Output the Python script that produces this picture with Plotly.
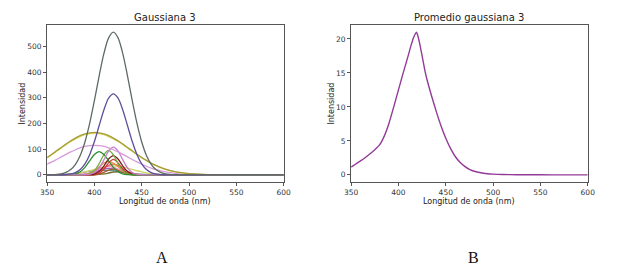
import plotly.graph_objects as go

# ---------------- data ----------------
WL = [350, 355, 360, 365, 370, 375, 380, 385, 390, 395, 400, 405, 410, 415, 420,
      425, 430, 435, 440, 445, 450, 455, 460, 465, 470, 475, 480, 485, 490, 495,
      500, 520, 550, 600]

c_gris = [0.2, 0.6, 1.6, 4.0, 9.4, 20.4, 40.7, 75.1, 127.7, 200.0, 288.9, 384.4, 471.4, 532.8, 555.0,
          532.8, 471.4, 384.4, 288.9, 200.0, 127.7, 75.1, 40.7, 20.4, 9.4, 4.0, 1.6, 0.6, 0.2, 0.1,
          0, 0, 0, 0]
c_violeta = [0, 0, 0.1, 0.4, 1.2, 3.5, 9.0, 20.7, 42.6, 78.6, 129.5, 191.0, 252.3, 298.0, 315.0,
             298.0, 252.3, 191.0, 129.5, 78.6, 42.6, 20.7, 9.0, 3.5, 1.2, 0.4, 0.1, 0, 0, 0,
             0, 0, 0, 0]
c_oliva = [67.8, 80.3, 93.4, 106.7, 119.8, 132.1, 143.1, 152.3, 159.2, 163.5, 165.0, 163.5, 159.2, 152.3, 143.1,
           132.1, 119.8, 106.7, 93.4, 80.3, 67.8, 56.3, 45.9, 36.7, 28.9, 22.3, 16.9, 12.6, 9.3, 6.7,
           4.7, 1.0, 0.1, 0]
c_amarillo = [66.0, 78.5, 91.5, 104.5, 117.5, 129.5, 140.0, 149.0, 156.0, 160.0, 161.5, 160.0, 156.0, 149.0, 140.0,
              129.5, 117.5, 104.5, 91.5, 78.5, 66.0, 55.0, 45.0, 36.0, 28.3, 21.8, 16.5, 12.3, 9.1, 6.6,
              4.6, 1.0, 0.1, 0]
c_orquidea = [41.4, 50.3, 59.9, 69.7, 79.6, 89.1, 97.7, 104.9, 110.4, 113.9, 115.0, 113.9, 110.4, 104.9, 97.7,
              89.1, 79.6, 69.7, 59.9, 50.3, 41.4, 33.5, 26.5, 20.5, 15.6, 11.6, 8.4, 6.0, 4.2, 2.9,
              1.9, 0.3, 0, 0]
c_verde = [0, 0, 0, 0, 0.2, 1.0, 4.0, 12.2, 29.2, 54.6, 79.4, 90.0, 79.4, 54.6, 29.2,
           12.2, 4.0, 1.0, 0.2, 0, 0, 0, 0, 0, 0, 0, 0, 0, 0, 0,
           0, 0, 0, 0]
c_verde2 = [0, 0, 0, 0, 0, 0, 0, 0.1, 0.7, 4.2, 16.4, 43.5, 78.1, 95.0, 78.1,
            43.5, 16.4, 4.2, 0.7, 0.1, 0, 0, 0, 0, 0, 0, 0, 0, 0, 0,
            0, 0, 0, 0]
c_rosa = [0, 0, 0, 0, 0, 0, 0, 0.05, 0.4, 2.3, 9.1, 26.9, 58.2, 92.6, 108.0,
          92.6, 58.2, 26.9, 9.1, 2.3, 0.4, 0.05, 0, 0, 0, 0, 0, 0, 0, 0,
          0, 0, 0, 0]
c_granate = [0, 0, 0, 0, 0, 0, 0, 0, 0.07, 0.6, 3.3, 12.9, 34.3, 61.7, 75.0,
             61.7, 34.3, 12.9, 3.3, 0.6, 0.07, 0, 0, 0, 0, 0, 0, 0, 0, 0,
             0, 0, 0, 0]
c_naranja = [0, 0, 0, 0, 0, 0, 0.1, 0.6, 2.3, 7.0, 16.9, 31.5, 45.9, 52.0, 45.9,
             31.5, 16.9, 7.0, 2.3, 0.6, 0.1, 0, 0, 0, 0, 0, 0, 0, 0, 0,
             0, 0, 0, 0]
c_salmon = [0, 0, 0, 0, 0, 0, 0, 0.1, 0.5, 1.8, 5.7, 13.6, 25.5, 37.1, 42.0,
            37.1, 25.5, 13.6, 5.7, 1.8, 0.5, 0.1, 0, 0, 0, 0, 0, 0, 0, 0,
            0, 0, 0, 0]
c_rosa2 = [0, 0, 0, 0, 0.03, 0.12, 0.45, 1.4, 3.6, 8.0, 14.6, 22.6, 29.3, 32.0, 29.3,
           22.6, 14.6, 8.0, 3.6, 1.4, 0.45, 0.12, 0.03, 0, 0, 0, 0, 0, 0, 0,
           0, 0, 0, 0]
c_lima = [0.08, 0.18, 0.39, 0.8, 1.5, 2.8, 4.7, 7.6, 11.4, 16.0, 21.2, 26.4, 30.9, 33.9, 35.0,
          33.9, 30.9, 26.4, 21.2, 16.0, 11.4, 7.6, 4.7, 2.8, 1.5, 0.8, 0.39, 0.18, 0.08, 0,
          0, 0, 0, 0]
c_marron = [0, 0, 0, 0, 0, 0, 0, 0, 0.02, 0.17, 0.97, 3.8, 10.1, 18.1, 22.0,
            18.1, 10.1, 3.8, 0.97, 0.17, 0.02, 0, 0, 0, 0, 0, 0, 0, 0, 0,
            0, 0, 0, 0]
c_azulgris = [0.2, 0.41, 0.79, 1.4, 2.4, 3.9, 5.8, 8.2, 10.9, 13.6, 15.9, 17.4, 18.0, 17.4, 15.9,
              13.6, 10.9, 8.2, 5.8, 3.9, 2.4, 1.4, 0.79, 0.41, 0.2, 0.09, 0.04, 0, 0, 0,
              0, 0, 0, 0]
c_purpura = [0, 0, 0, 0, 0.02, 0.1, 0.36, 1.1, 2.85, 6.2, 11.4, 17.7, 22.9, 25.0, 22.9,
             17.7, 11.4, 6.2, 2.85, 1.1, 0.36, 0.1, 0.02, 0, 0, 0, 0, 0, 0, 0,
             0, 0, 0, 0]
c_olivaosc = [0, 0, 0, 0, 0, 0, 0, 0, 0.03, 0.13, 0.53, 1.6, 3.9, 7.3, 10.6,
              12.0, 10.6, 7.3, 3.9, 1.6, 0.53, 0.13, 0.03, 0, 0, 0, 0, 0, 0, 0,
              0, 0, 0, 0]
c_rojo = [0, 0, 0, 0, 0, 0, 0, 0, 0, 0.1, 1.0, 6.0, 21.6, 46.5, 60.0,
          46.5, 21.6, 6.0, 1.0, 0.1, 0, 0, 0, 0, 0, 0, 0, 0, 0, 0,
          0, 0, 0, 0]

AVG_WL = [350, 355, 360, 365, 370, 375, 380, 385, 390, 395, 400, 405, 410, 413, 416, 418, 419, 420,
          422, 425, 428, 430, 435, 440, 445, 450, 455, 460, 465, 470, 475, 480, 490, 500, 510, 525,
          550, 575, 600]
AVG_I = [1.15, 1.6, 2.05, 2.55, 3.1, 3.7, 4.4, 5.7, 7.6, 10.0, 12.5, 15.0, 17.4, 18.9, 20.2, 20.8, 21.0, 20.7,
         19.6, 17.5, 15.3, 14.1, 11.6, 9.3, 7.2, 5.4, 3.9, 2.7, 1.85, 1.25, 0.82, 0.53, 0.24, 0.11, 0.05, 0.02,
         0.01, 0.0, 0.0]

X_TICKS = [350, 400, 450, 500, 550, 600]
YA_TICKS = [0, 100, 200, 300, 400, 500]
YB_TICKS = [0, 5, 10, 15, 20]

SERIES_A = [
    (c_azulgris, '#5f8f96'),
    (c_lima, '#cdd46a'),
    (c_olivaosc, '#6f6a2a'),
    (c_purpura, '#9c5fb5'),
    (c_marron, '#a0642c'),
    (c_rosa2, '#ee8ec0'),
    (c_salmon, '#e06060'),
    (c_naranja, '#e8944a'),
    (c_rojo, '#d03a3a'),
    (c_granate, '#7a2020'),
    (c_verde2, '#6cb040'),
    (c_verde, '#2f8a2f'),
    (c_rosa, '#c77dc9'),
    (c_orquidea, '#d89ad8'),
    (c_amarillo, '#dcd860'),
    (c_oliva, '#a39c38'),
    (c_violeta, '#5d4f9a'),
    (c_gris, '#5e6b63'),
]

# ---------------- figure ----------------
W, H = 627, 276
fig = go.Figure()

for ys, col in SERIES_A:
    fig.add_trace(go.Scatter(x=WL, y=ys, mode='lines', line=dict(color=col, width=1.3, shape='spline', smoothing=0.8),
                             xaxis='x', yaxis='y', showlegend=False, hoverinfo='skip'))

fig.add_trace(go.Scatter(x=AVG_WL, y=AVG_I, mode='lines', line=dict(color='#923a97', width=1.4, shape='spline', smoothing=0.5),
                         xaxis='x2', yaxis='y2', showlegend=False, hoverinfo='skip'))

def px(x):
    return x / W

def py(y):
    return 1 - y / H

axis_common = dict(showline=True, mirror=True, linecolor='#555555', linewidth=1, ticks='outside', ticklen=3,
                   tickcolor='#555555', tickwidth=1, showgrid=False, zeroline=False,
                   tickfont=dict(family='DejaVu Sans', size=7.5, color='#333333'))

fig.update_layout(
    width=W, height=H,
    margin=dict(l=0, r=0, t=0, b=0),
    paper_bgcolor='white', plot_bgcolor='white',
    xaxis=dict(domain=[px(41), px(283)], range=[350, 600], tickvals=X_TICKS, anchor='y', **axis_common),
    yaxis=dict(domain=[py(182), py(25)], range=[-27.75, 582.75], tickvals=YA_TICKS, anchor='x', **axis_common),
    xaxis2=dict(domain=[px(352), px(594)], range=[350, 600], tickvals=X_TICKS, anchor='y2', **axis_common),
    yaxis2=dict(domain=[py(182), py(25)], range=[-1.05, 22.05], tickvals=YB_TICKS, anchor='x2', **axis_common),
)

def ann(text, x, y, size, angle=0, family='DejaVu Sans', color='#222222'):
    fig.add_annotation(text=text, x=px(x), y=py(y), xref='paper', yref='paper', showarrow=False,
                       xanchor='center', yanchor='middle', textangle=angle,
                       font=dict(family=family, size=size, color=color))

ann('Gaussiana 3', 162, 17, 10)
ann('Promedio gaussiana 3', 473, 17, 10)
ann('Longitud de onda (nm)', 162, 201, 8)
ann('Longitud de onda (nm)', 473, 201, 8)
ann('Intensidad', 15, 104, 8, angle=-90)
ann('Intensidad', 331, 104, 8, angle=-90)
ann('A', 159, 257, 16, family='Liberation Serif', color='#111111')
ann('B', 477, 257, 16, family='Liberation Serif', color='#111111')

fig.write_html('out.html', config={'displayModeBar': False, 'staticPlot': True},
               post_script="document.body.style.margin='0px';document.body.style.padding='0px';")
